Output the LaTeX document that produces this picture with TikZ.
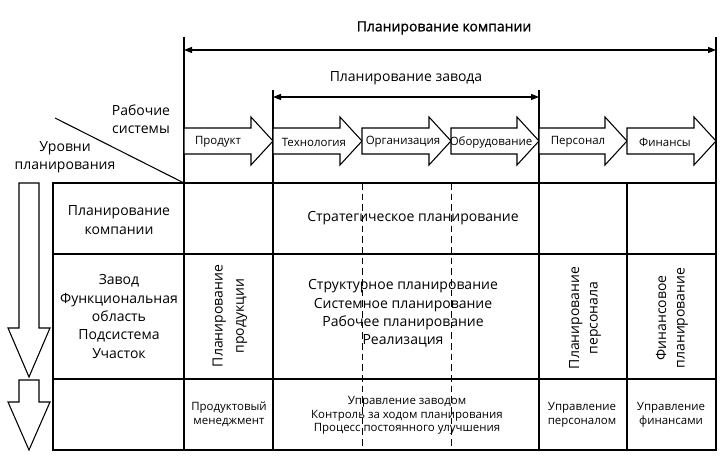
\documentclass[tikz,border=0pt]{standalone}
\usepackage{fontspec}
\setmainfont{Open Sans}
\newfontfamily\titlefont{Open Sans}[FakeBold=1]
\usetikzlibrary{arrows.meta}
\begin{document}
\begin{tikzpicture}[x=0.75pt,y=-0.75pt,
  thinline/.style={line width=0.8pt},
  thickline/.style={line width=1.6pt},
  borderline/.style={line width=1.9pt},
  dashline/.style={line width=0.6pt,dash pattern=on 5pt off 3pt},
  flow/.style={draw,line width=0.8pt,fill=white,line join=miter},
  dim/.style={line width=0.8pt,{Triangle[length=6pt,width=4.5pt]}-{Triangle[length=6pt,width=4.5pt]}},
  maintxt/.style={font=\fontsize{10.5}{13.7}\selectfont,align=center,inner sep=0pt},
  smalltxt/.style={font=\fontsize{8.6}{10.3}\selectfont,align=center,inner sep=0pt},
  rottxt/.style={font=\fontsize{10.5}{13.9}\selectfont,align=center,inner sep=0pt,rotate=90},
]
\useasboundingbox (0,0) rectangle (727,460);

% --- upper guide lines ---
\coordinate (g1a) at (184,37);  \coordinate (g1b) at (184,183);
\coordinate (g2a) at (716,37);  \coordinate (g2b) at (716,183);
\coordinate (g3a) at (273,90);  \coordinate (g3b) at (273,183);
\coordinate (g4a) at (539,90);  \coordinate (g4b) at (539,183);
\draw[thinline] (g1a) -- (g1b);
\draw[thinline] (g2a) -- (g2b);
\draw[thinline] (g3a) -- (g3b);
\draw[thinline] (g4a) -- (g4b);

% --- dimension arrows ---
\coordinate (d1l) at (184,50); \coordinate (d1r) at (716,50);
\coordinate (d2l) at (273,97); \coordinate (d2r) at (539,97);
\draw[dim] (d1l) -- (d1r);
\draw[dim] (d2l) -- (d2r);
\node[font=\titlefont\fontsize{10.5}{12}\selectfont,inner sep=0pt] (pk) at (444,28) {Планирование компании};
\node[maintxt] (pz) at (406,78) {Планирование завода};

% --- diagonal ---
\coordinate (dg1) at (55,118); \coordinate (dg2) at (184,183);
\draw[thinline] (dg1) -- (dg2);
\node[maintxt] (rs) at (141,119) {Рабочие\\системы};
\node[maintxt] (ul) at (65,157.5) {Уровни\\планирования};

% --- flow arrows ---
\foreach \a/\b in {184/273,273/362,362/451,451/539,539/627,627/716}{
  \draw[flow] (\a,128) -- (\b-22,128) -- (\b-22,117) -- (\b,141) -- (\b-22,165) -- (\b-22,154) -- (\a,154) -- cycle;
}
\node[smalltxt] (a1) at (218,142) {Продукт};
\node[smalltxt] (a2) at (314,142) {Технология};
\node[smalltxt] (a3) at (403,142) {Организация};
\node[smalltxt] (a4) at (491,142) {Оборудование};
\node[smalltxt] (a5) at (578,142) {Персонал};
\node[smalltxt] (a6) at (665,142) {Финансы};

% --- left arrows ---
\draw[flow] (19,183) -- (39,183) -- (39,328) -- (50,328) -- (29,377) -- (8,328) -- (19,328) -- cycle;
\draw[flow] (19,380) -- (39,380) -- (39,402) -- (50,402) -- (29,450) -- (8,402) -- (19,402) -- cycle;

% --- table ---
\draw[dashline] (362,183) -- (362,450);
\draw[dashline] (451,183) -- (451,450);
\draw[thinline] (53,254) -- (716,254);
\draw[thinline] (53,379) -- (716,379);
\draw[thinline] (627,183) -- (627,450);
\draw[thickline] (184,183) -- (184,450);
\draw[thickline] (273,183) -- (273,450);
\draw[thickline] (539,183) -- (539,450);
\draw[thickline] (273,379) -- (539,379);
\draw[borderline] (53,183) rectangle (716,450);

% --- cell texts ---
\node[maintxt] (c1r1) at (119,220) {Планирование\\компании};
\node[maintxt] (c1r2) at (119,316.5) {Завод\\Функциональная\\область\\Подсистема\\Участок};
\node[maintxt] (strat) at (413,218.5) {Стратегическое планирование};
\node[maintxt] (mid) at (403,313.5) {Структурное планирование\\Системное планирование\\Рабочее планирование\\Реализация};
\node[rottxt,font=\fontsize{10.5}{16}\selectfont] (pp) at (230,316) {Планирование\\продукции};
\node[rottxt] (pers) at (585,318) {Планирование\\персонала};
\node[rottxt] (fin) at (672,318) {Финансовое\\планирование};
\node[smalltxt] (pm) at (229,414.5) {Продуктовый\\менеджмент};
\node[smalltxt] (uz) at (407,415.5) {Управление заводом\\Контроль за ходом планирования\\Процесс постоянного улучшения};
\node[smalltxt] (up) at (582,414.5) {Управление\\персоналом};
\node[smalltxt] (uf) at (671,414.5) {Управление\\финансами};
\end{tikzpicture}
\end{document}
